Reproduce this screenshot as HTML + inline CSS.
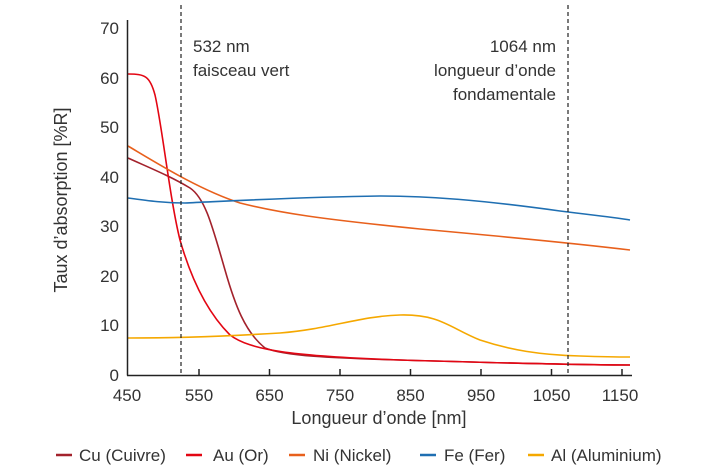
<!DOCTYPE html>
<html><head><meta charset="utf-8"><style>
html,body{margin:0;padding:0;background:#fff;}
svg{display:block;font-family:"Liberation Sans",sans-serif;}
</style></head><body>
<svg width="720" height="470" viewBox="0 0 720 470">
<g fill="none" stroke-width="1.6">
<path stroke="#a3222c" d="M128,158 C150,168 170,176 190,188 C205,198 212,225 225,270 C235,305 245,332 265,348 C285,356 330,358 400,360 C500,363 580,365 630,365"/>
<path stroke="#e30613" d="M128,74 C145,74 150,76 155,95 C162,125 170,200 180,240 C190,275 205,310 230,335 C250,350 290,356 400,360 C500,363 580,365 630,365"/>
<path stroke="#e8601c" d="M128,146 C160,165 200,190 240,203 C280,213 320,219 420,229 C520,238 580,244 630,250"/>
<path stroke="#1f6fb2" d="M128,198 C150,201 165,203 185,203 C230,201 300,197 380,196 C430,196 480,200 560,211 C600,216 620,218 630,220"/>
<path stroke="#f5a800" d="M128,338 C180,338 230,336 280,333 C330,329 360,316 400,315 C440,314 450,328 480,340 C510,350 540,355 580,356 C610,357 620,357 630,357"/>
</g>
<g stroke="#222" stroke-width="1.2" stroke-dasharray="4,3">
<line x1="181" y1="5" x2="181" y2="375"/>
<line x1="568" y1="5" x2="568" y2="375"/>
</g>
<g stroke="#222" stroke-width="1.5">
<line x1="127.5" y1="20" x2="127.5" y2="375.5"/>
<line x1="127" y1="375.5" x2="632" y2="375.5"/>
<line x1="199" y1="369" x2="199" y2="375"/>
<line x1="269.5" y1="369" x2="269.5" y2="375"/>
<line x1="340" y1="369" x2="340" y2="375"/>
<line x1="410.5" y1="369" x2="410.5" y2="375"/>
<line x1="481" y1="369" x2="481" y2="375"/>
<line x1="551.5" y1="369" x2="551.5" y2="375"/>
<line x1="622" y1="369" x2="622" y2="375"/>
</g>
<g font-size="17" fill="#333" text-anchor="end">
<text x="119" y="381">0</text>
<text x="119" y="331">10</text>
<text x="119" y="282">20</text>
<text x="119" y="232">30</text>
<text x="119" y="183">40</text>
<text x="119" y="133">50</text>
<text x="119" y="84">60</text>
<text x="119" y="34">70</text>
</g>
<g font-size="17" fill="#333" text-anchor="middle">
<text x="127" y="401">450</text>
<text x="199" y="401">550</text>
<text x="269.5" y="401">650</text>
<text x="340" y="401">750</text>
<text x="410.5" y="401">850</text>
<text x="481" y="401">950</text>
<text x="551.5" y="401">1050</text>
<text x="620" y="401">1150</text>
<text x="379" y="424" font-size="18">Longueur d’onde [nm]</text>
<text transform="translate(67,200) rotate(-90)" font-size="18">Taux d’absorption [%R]</text>
</g>
<g font-size="17" fill="#333">
<text x="193" y="52">532 nm</text>
<text x="193" y="76">faisceau vert</text>
</g>
<g font-size="17" fill="#333" text-anchor="end">
<text x="556" y="52">1064 nm</text>
<text x="556" y="76">longueur d’onde</text>
<text x="556" y="100">fondamentale</text>
</g>
<g stroke-width="2.5">
<line x1="56" y1="455" x2="72" y2="455" stroke="#a3222c"/>
<line x1="186" y1="455" x2="202" y2="455" stroke="#e30613"/>
<line x1="289" y1="455" x2="305" y2="455" stroke="#e8601c"/>
<line x1="420" y1="455" x2="436" y2="455" stroke="#1f6fb2"/>
<line x1="528" y1="455" x2="544" y2="455" stroke="#f5a800"/>
</g>
<g font-size="17" fill="#333">
<text x="79" y="461">Cu (Cuivre)</text>
<text x="213" y="461">Au (Or)</text>
<text x="313" y="461">Ni (Nickel)</text>
<text x="444" y="461">Fe (Fer)</text>
<text x="551" y="461">Al (Aluminium)</text>
</g>
</svg>
</body></html>
